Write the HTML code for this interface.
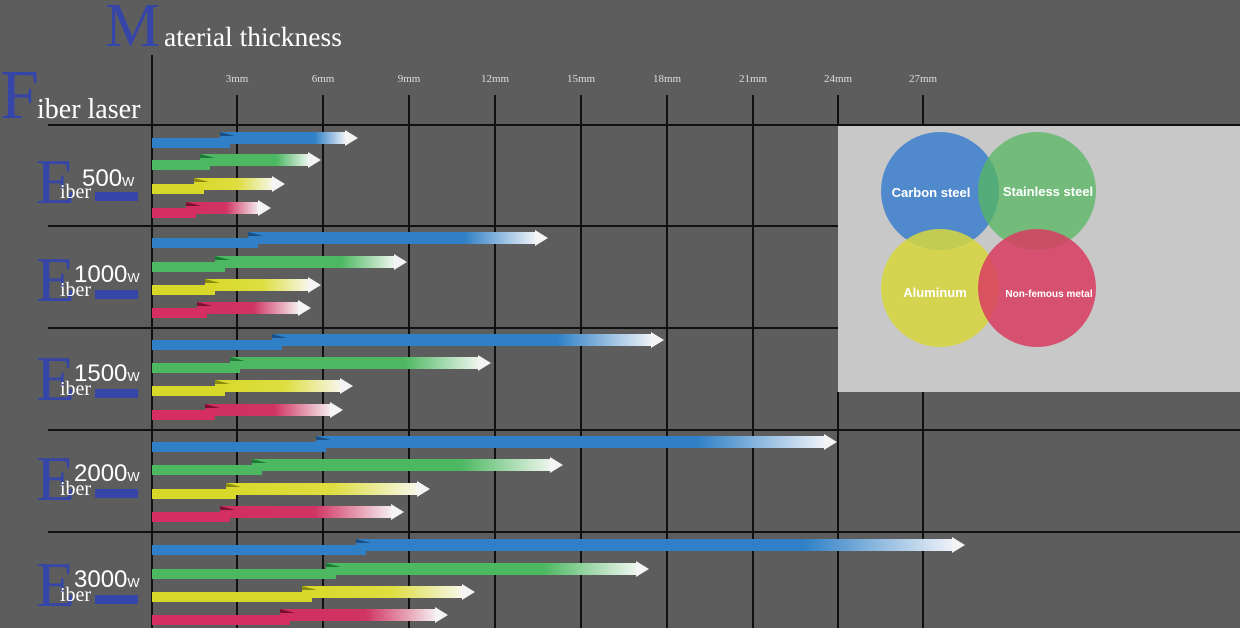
<!DOCTYPE html>
<html><head><meta charset="utf-8"><style>
html,body{margin:0;padding:0;background:#5d5d5d;}
svg{display:block}
</style></head><body>
<svg width="1240" height="628" viewBox="0 0 1240 628" xmlns="http://www.w3.org/2000/svg">
<defs>
<linearGradient id="gb" x1="0" x2="1" y1="0" y2="0"><stop offset="0" stop-color="#2f80c6"/><stop offset="0.75" stop-color="#2f80c6"/><stop offset="1" stop-color="#eef2f8"/></linearGradient>
<linearGradient id="gg" x1="0" x2="1" y1="0" y2="0"><stop offset="0" stop-color="#4db862"/><stop offset="0.7" stop-color="#4db862"/><stop offset="1" stop-color="#eef6ee"/></linearGradient>
<linearGradient id="gy" x1="0" x2="1" y1="0" y2="0"><stop offset="0" stop-color="#d8d82a"/><stop offset="0.55" stop-color="#dede40"/><stop offset="1" stop-color="#f6f6ea"/></linearGradient>
<linearGradient id="gr" x1="0" x2="1" y1="0" y2="0"><stop offset="0" stop-color="#d02e62"/><stop offset="0.55" stop-color="#d03462"/><stop offset="1" stop-color="#f6eef0"/></linearGradient>
</defs>
<rect width="1240" height="628" fill="#5d5d5d"/>
<rect x="838" y="124" width="402" height="268" fill="#c8c8c8"/>
<circle cx="940" cy="191" r="59" fill="#3c7fcc" fill-opacity="0.85"/>
<circle cx="1037" cy="191" r="59" fill="#55b760" fill-opacity="0.75"/>
<circle cx="940" cy="288" r="59" fill="#d6d63c" fill-opacity="0.85"/>
<circle cx="1037" cy="288" r="59" fill="#d83c60" fill-opacity="0.85"/>
<g font-family="'Liberation Sans',sans-serif" fill="#fff" font-weight="bold">
<text x="931" y="197" font-size="13" text-anchor="middle">Carbon steel</text>
<text x="1048" y="196" font-size="13" text-anchor="middle">Stainless steel</text>
<text x="935" y="297" font-size="13" text-anchor="middle">Aluminum</text>
<text x="1049" y="297" font-size="10" text-anchor="middle">Non-femous metal</text>
</g>
<g stroke="#111" stroke-width="2">
<line x1="152" y1="55" x2="152" y2="628"/>
<line x1="237" y1="95" x2="237" y2="628"/>
<line x1="323" y1="95" x2="323" y2="628"/>
<line x1="409" y1="95" x2="409" y2="628"/>
<line x1="495" y1="95" x2="495" y2="628"/>
<line x1="581" y1="95" x2="581" y2="628"/>
<line x1="667" y1="95" x2="667" y2="628"/>
<line x1="753" y1="95" x2="753" y2="628"/>
<line x1="838" y1="95" x2="838" y2="124"/><line x1="838" y1="392" x2="838" y2="628"/>
<line x1="923" y1="95" x2="923" y2="124"/><line x1="923" y1="392" x2="923" y2="628"/>
<line x1="48" y1="125" x2="1240" y2="125"/>
<line x1="48" y1="226" x2="838" y2="226"/>
<line x1="48" y1="328" x2="838" y2="328"/>
<line x1="48" y1="430" x2="1240" y2="430"/>
<line x1="48" y1="532" x2="1240" y2="532"/>
</g>
<g font-family="'Liberation Serif',serif" fill="#ddd" font-size="11" text-anchor="middle">
<text x="237" y="82">3mm</text><text x="323" y="82">6mm</text><text x="409" y="82">9mm</text><text x="495" y="82">12mm</text><text x="581" y="82">15mm</text><text x="667" y="82">18mm</text><text x="753" y="82">21mm</text><text x="838" y="82">24mm</text><text x="923" y="82">27mm</text>
</g>
<g font-family="'Liberation Serif',serif">
<text x="105" y="46" font-size="62" fill="#3545a8">M</text>
<text x="164" y="46" font-size="27.5" fill="#fff">aterial thickness</text>
<text x="0" y="118" font-size="70" fill="#3545a8">F</text>
<text x="37" y="118" font-size="28" fill="#fff">iber laser</text>
</g>
<g font-family="'Liberation Serif',serif">
<g><text x="36" y="203" font-size="64" fill="#3545a8">E</text><rect x="95" y="192" width="43" height="9" fill="#3545a8"/><text x="60" y="198" font-size="20" fill="#fff">iber</text><text x="82" y="186" font-size="24" fill="#fff" font-family="'Liberation Sans',sans-serif">500<tspan font-size="13">W</tspan></text></g>
<g transform="translate(0,98)"><text x="36" y="203" font-size="64" fill="#3545a8">E</text><rect x="95" y="192" width="43" height="9" fill="#3545a8"/><text x="60" y="198" font-size="20" fill="#fff">iber</text><text x="74" y="184" font-size="24" fill="#fff" font-family="'Liberation Sans',sans-serif">1000<tspan font-size="13">W</tspan></text></g>
<g transform="translate(0,197)"><text x="36" y="203" font-size="64" fill="#3545a8">E</text><rect x="95" y="192" width="43" height="9" fill="#3545a8"/><text x="60" y="198" font-size="20" fill="#fff">iber</text><text x="74" y="184" font-size="24" fill="#fff" font-family="'Liberation Sans',sans-serif">1500<tspan font-size="13">W</tspan></text></g>
<g transform="translate(0,297)"><text x="36" y="203" font-size="64" fill="#3545a8">E</text><rect x="95" y="192" width="43" height="9" fill="#3545a8"/><text x="60" y="198" font-size="20" fill="#fff">iber</text><text x="74" y="184" font-size="24" fill="#fff" font-family="'Liberation Sans',sans-serif">2000<tspan font-size="13">W</tspan></text></g>
<g transform="translate(0,403)"><text x="36" y="203" font-size="64" fill="#3545a8">E</text><rect x="95" y="192" width="43" height="9" fill="#3545a8"/><text x="60" y="198" font-size="20" fill="#fff">iber</text><text x="74" y="184" font-size="24" fill="#fff" font-family="'Liberation Sans',sans-serif">3000<tspan font-size="13">W</tspan></text></g>
</g>
<g>
<rect x="220" y="132" width="126" height="12" fill="url(#gb)"/><polygon points="345,130 358,138 345,146" fill="#f4f4f4"/><rect x="152" y="138" width="78" height="10" fill="#2f80c6"/><polygon points="220,132 235,136 220,136" fill="#1a4f86"/>
<rect x="200" y="154" width="109" height="12" fill="url(#gg)"/><polygon points="308,152 321,160 308,168" fill="#f4f4f4"/><rect x="152" y="160" width="58" height="10" fill="#4db862"/><polygon points="200,154 215,158 200,158" fill="#1d7a34"/>
<rect x="194" y="178" width="79" height="12" fill="url(#gy)"/><polygon points="272,176 285,184 272,192" fill="#f4f4f4"/><rect x="152" y="184" width="52" height="10" fill="#d8d82a"/><polygon points="194,178 209,182 194,182" fill="#8a8a10"/>
<rect x="186" y="202" width="73" height="12" fill="url(#gr)"/><polygon points="258,200 271,208 258,216" fill="#f4f4f4"/><rect x="152" y="208" width="44" height="10" fill="#d42e63"/><polygon points="186,202 201,206 186,206" fill="#7a1030"/>

<rect x="248" y="232" width="288" height="12" fill="url(#gb)"/><polygon points="535,230 548,238 535,246" fill="#f4f4f4"/><rect x="152" y="238" width="106" height="10" fill="#2f80c6"/><polygon points="248,232 263,236 248,236" fill="#1a4f86"/>
<rect x="215" y="256" width="180" height="12" fill="url(#gg)"/><polygon points="394,254 407,262 394,270" fill="#f4f4f4"/><rect x="152" y="262" width="73" height="10" fill="#4db862"/><polygon points="215,256 230,260 215,260" fill="#1d7a34"/>
<rect x="205" y="279" width="104" height="12" fill="url(#gy)"/><polygon points="308,277 321,285 308,293" fill="#f4f4f4"/><rect x="152" y="285" width="63" height="10" fill="#d8d82a"/><polygon points="205,279 220,283 205,283" fill="#8a8a10"/>
<rect x="197" y="302" width="102" height="12" fill="url(#gr)"/><polygon points="298,300 311,308 298,316" fill="#f4f4f4"/><rect x="152" y="308" width="55" height="10" fill="#d42e63"/><polygon points="197,302 212,306 197,306" fill="#7a1030"/>

<rect x="272" y="334" width="380" height="12" fill="url(#gb)"/><polygon points="651,332 664,340 651,348" fill="#f4f4f4"/><rect x="152" y="340" width="130" height="10" fill="#2f80c6"/><polygon points="272,334 287,338 272,338" fill="#1a4f86"/>
<rect x="230" y="357" width="249" height="12" fill="url(#gg)"/><polygon points="478,355 491,363 478,371" fill="#f4f4f4"/><rect x="152" y="363" width="88" height="10" fill="#4db862"/><polygon points="230,357 245,361 230,361" fill="#1d7a34"/>
<rect x="215" y="380" width="126" height="12" fill="url(#gy)"/><polygon points="340,378 353,386 340,394" fill="#f4f4f4"/><rect x="152" y="386" width="73" height="10" fill="#d8d82a"/><polygon points="215,380 230,384 215,384" fill="#8a8a10"/>
<rect x="205" y="404" width="126" height="12" fill="url(#gr)"/><polygon points="330,402 343,410 330,418" fill="#f4f4f4"/><rect x="152" y="410" width="63" height="10" fill="#d42e63"/><polygon points="205,404 220,408 205,408" fill="#7a1030"/>

<rect x="316" y="436" width="509" height="12" fill="url(#gb)"/><polygon points="824,434 837,442 824,450" fill="#f4f4f4"/><rect x="152" y="442" width="174" height="10" fill="#2f80c6"/><polygon points="316,436 331,440 316,440" fill="#1a4f86"/>
<rect x="252" y="459" width="299" height="12" fill="url(#gg)"/><polygon points="550,457 563,465 550,473" fill="#f4f4f4"/><rect x="152" y="465" width="110" height="10" fill="#4db862"/><polygon points="252,459 267,463 252,463" fill="#1d7a34"/>
<rect x="226" y="483" width="192" height="12" fill="url(#gy)"/><polygon points="417,481 430,489 417,497" fill="#f4f4f4"/><rect x="152" y="489" width="84" height="10" fill="#d8d82a"/><polygon points="226,483 241,487 226,487" fill="#8a8a10"/>
<rect x="220" y="506" width="172" height="12" fill="url(#gr)"/><polygon points="391,504 404,512 391,520" fill="#f4f4f4"/><rect x="152" y="512" width="78" height="10" fill="#d42e63"/><polygon points="220,506 235,510 220,510" fill="#7a1030"/>

<rect x="356" y="539" width="597" height="12" fill="url(#gb)"/><polygon points="952,537 965,545 952,553" fill="#f4f4f4"/><rect x="152" y="545" width="214" height="10" fill="#2f80c6"/><polygon points="356,539 371,543 356,543" fill="#1a4f86"/>
<rect x="326" y="563" width="311" height="12" fill="url(#gg)"/><polygon points="636,561 649,569 636,577" fill="#f4f4f4"/><rect x="152" y="569" width="184" height="10" fill="#4db862"/><polygon points="326,563 341,567 326,567" fill="#1d7a34"/>
<rect x="302" y="586" width="161" height="12" fill="url(#gy)"/><polygon points="462,584 475,592 462,600" fill="#f4f4f4"/><rect x="152" y="592" width="160" height="10" fill="#d8d82a"/><polygon points="302,586 317,590 302,590" fill="#8a8a10"/>
<rect x="280" y="609" width="156" height="12" fill="url(#gr)"/><polygon points="435,607 448,615 435,623" fill="#f4f4f4"/><rect x="152" y="615" width="138" height="10" fill="#d42e63"/><polygon points="280,609 295,613 280,613" fill="#7a1030"/>
</g>
</svg>
</body></html>
